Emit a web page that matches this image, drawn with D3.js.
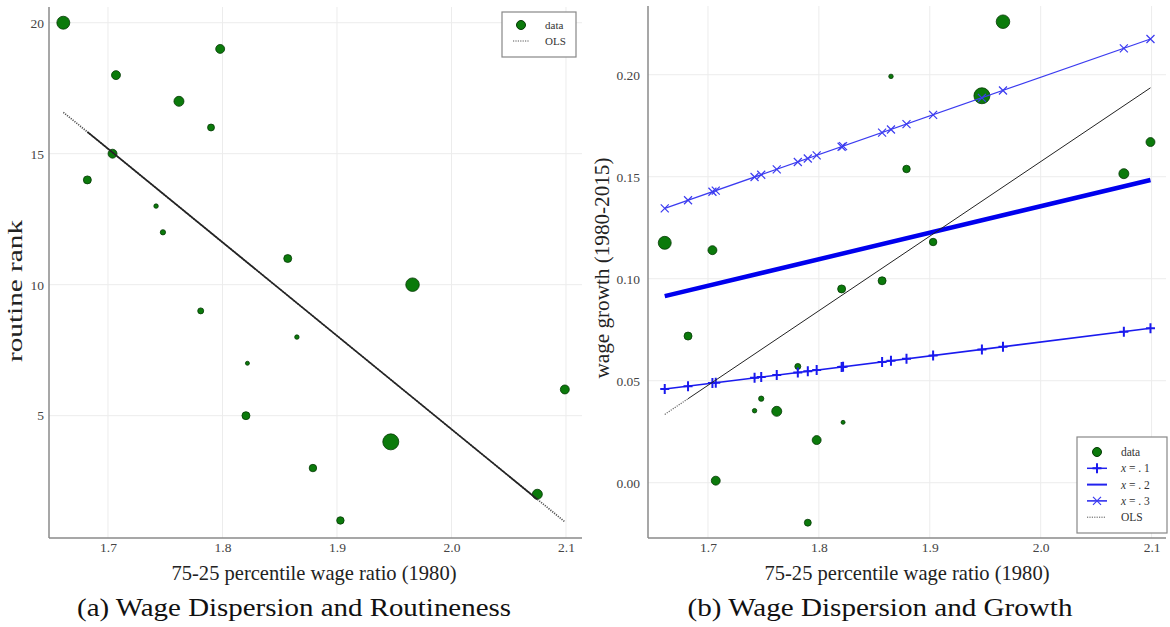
<!DOCTYPE html>
<html>
<head>
<meta charset="utf-8">
<style>
body { margin: 0; background: #fff; }
svg { font-family: "Liberation Serif", "DejaVu Serif", serif; }
.grid line { stroke: #ececec; stroke-width: 1; }
</style>
</head>
<body>
<svg width="1170" height="627"></svg>
<script src="https://cdn.jsdelivr.net/npm/d3@7"></script>
<script>

// cities ordered by routine rank 1..20
var rank = [1, 2, 3, 4, 5, 6, 7, 8, 9, 10, 11, 12, 13, 14, 15, 16, 17, 18, 19, 20];
var wageRatio = [1.903, 2.075, 1.879, 1.947, 1.8205, 2.099, 1.8218, 1.865, 1.781, 1.966,
                 1.857, 1.748, 1.742, 1.682, 1.704, 1.790, 1.762, 1.707, 1.798, 1.661];
var wageGrowth = [0.118, 0.1515, 0.1538, 0.1897, 0.095, 0.167, 0.0296, 0.1992, 0.057, 0.226,
                  0.099, 0.0412, 0.0353, 0.0719, 0.114, -0.0196, 0.035, 0.001, 0.0209, 0.1176];
var citySize = [14, 25, 14, 64, 16, 20, 4, 5, 9, 46, 16, 7, 5, 16, 20, 12, 25, 20, 20, 42];

// fitted lines: value at smallest and largest wage ratio
var olsRank = [16.58, 0.95];
var olsGrowth = [0.0335, 0.1936];
var fitX1 = [0.0459, 0.0757];
var fitX2 = [0.0915, 0.1484];
var fitX3 = [0.1345, 0.2175];

var xTicks = [1.7, 1.8, 1.9, 2.0, 2.1];
var rankTicks = [5, 10, 15, 20];
var growthTicks = [0, 0.05, 0.10, 0.15, 0.20];

var svg = d3.select("svg");
var pts = rank.map(function(r, i) {
  return {rank: r, ratio: wageRatio[i], growth: wageGrowth[i], size: citySize[i]};
});
var xMin = d3.min(wageRatio), xMax = d3.max(wageRatio);
var sortedX = wageRatio.slice().sort(d3.ascending);
var rScale = d3.scaleSqrt().domain([0, 64]).range([0, 8]);

var green = "#0b7a0b", greenEdge = "#053805";
var serif = "'Liberation Serif', 'DejaVu Serif', serif";

function panel(o) {
  var g = svg.append("g");
  var x = d3.scaleLinear().domain(o.xDomain).range([o.left, o.right]);
  var y = d3.scaleLinear().domain(o.yDomain).range([o.bottom, o.top]);

  // grid
  var grid = g.append("g").attr("class", "grid");
  grid.selectAll(".vx").data(xTicks).enter().append("line")
      .attr("x1", function(d) { return x(d); }).attr("x2", function(d) { return x(d); })
      .attr("y1", o.top).attr("y2", o.bottom);
  grid.selectAll(".hy").data(o.yTicks).enter().append("line")
      .attr("y1", function(d) { return y(d); }).attr("y2", function(d) { return y(d); })
      .attr("x1", o.left).attr("x2", o.right);

  // axes
  var ax = g.append("g").attr("transform", "translate(0," + o.bottom + ")")
      .call(d3.axisBottom(x).tickValues(xTicks).tickFormat(d3.format(".1f")).tickSize(0).tickPadding(4));
  var ay = g.append("g").attr("transform", "translate(" + o.left + ",0)")
      .call(d3.axisLeft(y).tickValues(o.yTicks).tickFormat(o.yFormat).tickSize(0).tickPadding(o.yPad));
  [ax, ay].forEach(function(a) {
    a.attr("font-family", serif).attr("font-size", 13.5);
    a.selectAll(".tick text").attr("fill", "#444");
    a.select(".domain").attr("stroke", "#8a8a8a").attr("stroke-width", 1.5);
  });
  ax.select(".domain").attr("d", "M" + o.left + ",0H" + o.right);
  ay.select(".domain").attr("d", "M0," + o.top + "V" + o.bottom);

  g.append("text").attr("x", o.xTitleX).attr("y", 580)
      .attr("text-anchor", "middle").attr("font-size", 21).attr("fill", "#222")
      .attr("textLength", 285).attr("lengthAdjust", "spacingAndGlyphs")
      .text("75-25 percentile wage ratio (1980)");
  g.append("text").attr("transform", "translate(" + o.yTitleX + "," + o.yTitleY + ") rotate(-90)")
      .attr("text-anchor", "middle").attr("font-size", 20).attr("fill", "#222")
      .attr("textLength", o.yTitleLen).attr("lengthAdjust", "spacingAndGlyphs")
      .text(o.yTitle);
  g.append("text").attr("x", o.capX).attr("y", 616)
      .attr("text-anchor", "middle").attr("font-size", 25).attr("fill", "#111")
      .attr("textLength", o.capLen).attr("lengthAdjust", "spacingAndGlyphs")
      .text(o.caption);
  return {g: g, x: x, y: y};
}

function olsLine(p, ends, width) {
  var f = d3.scaleLinear().domain([xMin, xMax]).range(ends);
  var line = d3.line().x(function(d) { return p.x(d); }).y(function(d) { return p.y(f(d)); });
  p.g.append("path").attr("d", line([xMin, xMax])).attr("fill", "none")
      .attr("stroke", "#555").attr("stroke-width", width).attr("stroke-dasharray", "1.2,1.2");
  p.g.append("path").attr("d", line([sortedX[1], sortedX[sortedX.length - 2]])).attr("fill", "none")
      .attr("stroke", "#222").attr("stroke-width", width);
}

function drawPoints(p, key) {
  p.g.selectAll(".pt").data(pts).enter().append("circle")
      .attr("cx", function(d) { return p.x(d.ratio); })
      .attr("cy", function(d) { return p.y(d[key]); })
      .attr("r", function(d) { return rScale(d.size); })
      .attr("fill", green).attr("stroke", greenEdge).attr("stroke-width", 0.8);
}

// ---- panel (a)
var pa = panel({left: 49, right: 582, top: 7, bottom: 538,
  xDomain: [1.6485, 2.114], yDomain: [0.33, 20.6], yTicks: rankTicks, yFormat: d3.format("d"), yPad: 5,
  yTitle: "routine rank", yTitleX: 22, yTitleY: 291, yTitleLen: 142, xTitleX: 314,
  caption: "(a) Wage Dispersion and Routineness", capX: 294, capLen: 434});
drawPoints(pa, "rank");
olsLine(pa, olsRank, 1.7);

// legend (a)
var la = pa.g.append("g").attr("transform", "translate(502,12)");
la.append("rect").attr("width", 74).attr("height", 45).attr("fill", "#fff")
    .attr("stroke", "#888").attr("stroke-width", 1.2);
la.append("circle").attr("cx", 19).attr("cy", 13).attr("r", 4.5).attr("fill", green).attr("stroke", greenEdge);
la.append("line").attr("x1", 11).attr("x2", 27).attr("y1", 29).attr("y2", 29)
    .attr("stroke", "#555").attr("stroke-dasharray", "1.2,1.2");
la.append("text").attr("x", 43).attr("y", 17).attr("font-size", 11).attr("fill", "#333").text("data");
la.append("text").attr("x", 43).attr("y", 33).attr("font-size", 11).attr("fill", "#333").text("OLS");

// ---- panel (b)
var pb = panel({left: 648, right: 1166, top: 6, bottom: 538,
  xDomain: [1.6459, 2.113], yDomain: [-0.0271, 0.2337], yTicks: growthTicks, yFormat: d3.format(".2f"), yPad: 8,
  yTitle: "wage growth (1980-2015)", yTitleX: 609, yTitleY: 268, yTitleLen: 221, xTitleX: 907,
  caption: "(b) Wage Dispersion and Growth", capX: 880, capLen: 385});
drawPoints(pb, "growth");

function fitLine(p, ends, width, color, marker) {
  var f = d3.scaleLinear().domain([xMin, xMax]).range(ends);
  p.g.append("line").attr("x1", p.x(xMin)).attr("x2", p.x(xMax))
      .attr("y1", p.y(ends[0])).attr("y2", p.y(ends[1]))
      .attr("stroke", color).attr("stroke-width", width);
  if (!marker) return;
  p.g.selectAll(null).data(wageRatio).enter().append("path")
      .attr("transform", function(d) { return "translate(" + p.x(d) + "," + p.y(f(d)) + ")"; })
      .attr("d", marker.d).attr("fill", "none").attr("stroke", color).attr("stroke-width", marker.w);
}
var plusMarker = {d: "M-4.5,0H4.5M0,-5V5", w: 2};
var crossMarker = {d: "M-4,-4L4,4M-4,4L4,-4", w: 1.2};

fitLine(pb, fitX1, 1.5, "#1a1aee", plusMarker);
fitLine(pb, fitX2, 4.5, "#0000ee", null);
fitLine(pb, fitX3, 1.2, "#3b3bf0", crossMarker);
var fo = d3.scaleLinear().domain([xMin, xMax]).range(olsGrowth);
pb.g.append("path").attr("d", d3.line()([[pb.x(xMin), pb.y(olsGrowth[0])], [pb.x(sortedX[1]), pb.y(fo(sortedX[1]))]]))
    .attr("stroke", "#666").attr("stroke-width", 1.2).attr("stroke-dasharray", "1.2,1.2");
pb.g.append("path").attr("d", d3.line()([[pb.x(sortedX[1]), pb.y(fo(sortedX[1]))], [pb.x(xMax), pb.y(olsGrowth[1])]]))
    .attr("stroke", "#222").attr("stroke-width", 1);

// legend (b)
var lb = pb.g.append("g").attr("transform", "translate(1077,437)");
lb.append("rect").attr("width", 90).attr("height", 96).attr("fill", "#fff")
    .attr("stroke", "#888").attr("stroke-width", 1.2);
var legItems = [
  {label: "data", kind: "dot"},
  {label: "x = . 1", kind: "plus"},
  {label: "x = . 2", kind: "thick"},
  {label: "x = . 3", kind: "cross"},
  {label: "OLS", kind: "dots"}
];
legItems.forEach(function(it, i) {
  var yy = 15 + i * 16.3;
  var row = lb.append("g").attr("transform", "translate(0," + yy + ")");
  if (it.kind === "dot") {
    row.append("circle").attr("cx", 20).attr("cy", 0).attr("r", 4.5).attr("fill", green).attr("stroke", greenEdge);
  } else if (it.kind === "dots") {
    row.append("line").attr("x1", 10).attr("x2", 28).attr("stroke", "#555").attr("stroke-dasharray", "1.2,1.2");
  } else {
    row.append("line").attr("x1", 10).attr("x2", 30).attr("stroke", "#2222ee")
        .attr("stroke-width", it.kind === "thick" ? 2 : 1.5);
    if (it.kind === "plus") row.append("path").attr("transform", "translate(20,0)").attr("d", plusMarker.d)
        .attr("stroke", "#1a1aee").attr("stroke-width", 2);
    if (it.kind === "cross") row.append("path").attr("transform", "translate(20,0)").attr("d", crossMarker.d)
        .attr("stroke", "#3b3bf0").attr("stroke-width", 1.2);
  }
  var t = row.append("text").attr("x", 44).attr("y", 4).attr("font-size", 11.5).attr("fill", "#333");
  if (it.kind === "dot" || it.kind === "dots") {
    t.text(it.label);
  } else {
    t.append("tspan").attr("font-style", "italic").text("x");
    t.append("tspan").text(it.label.slice(1));
  }
});

</script>
</body>
</html>
